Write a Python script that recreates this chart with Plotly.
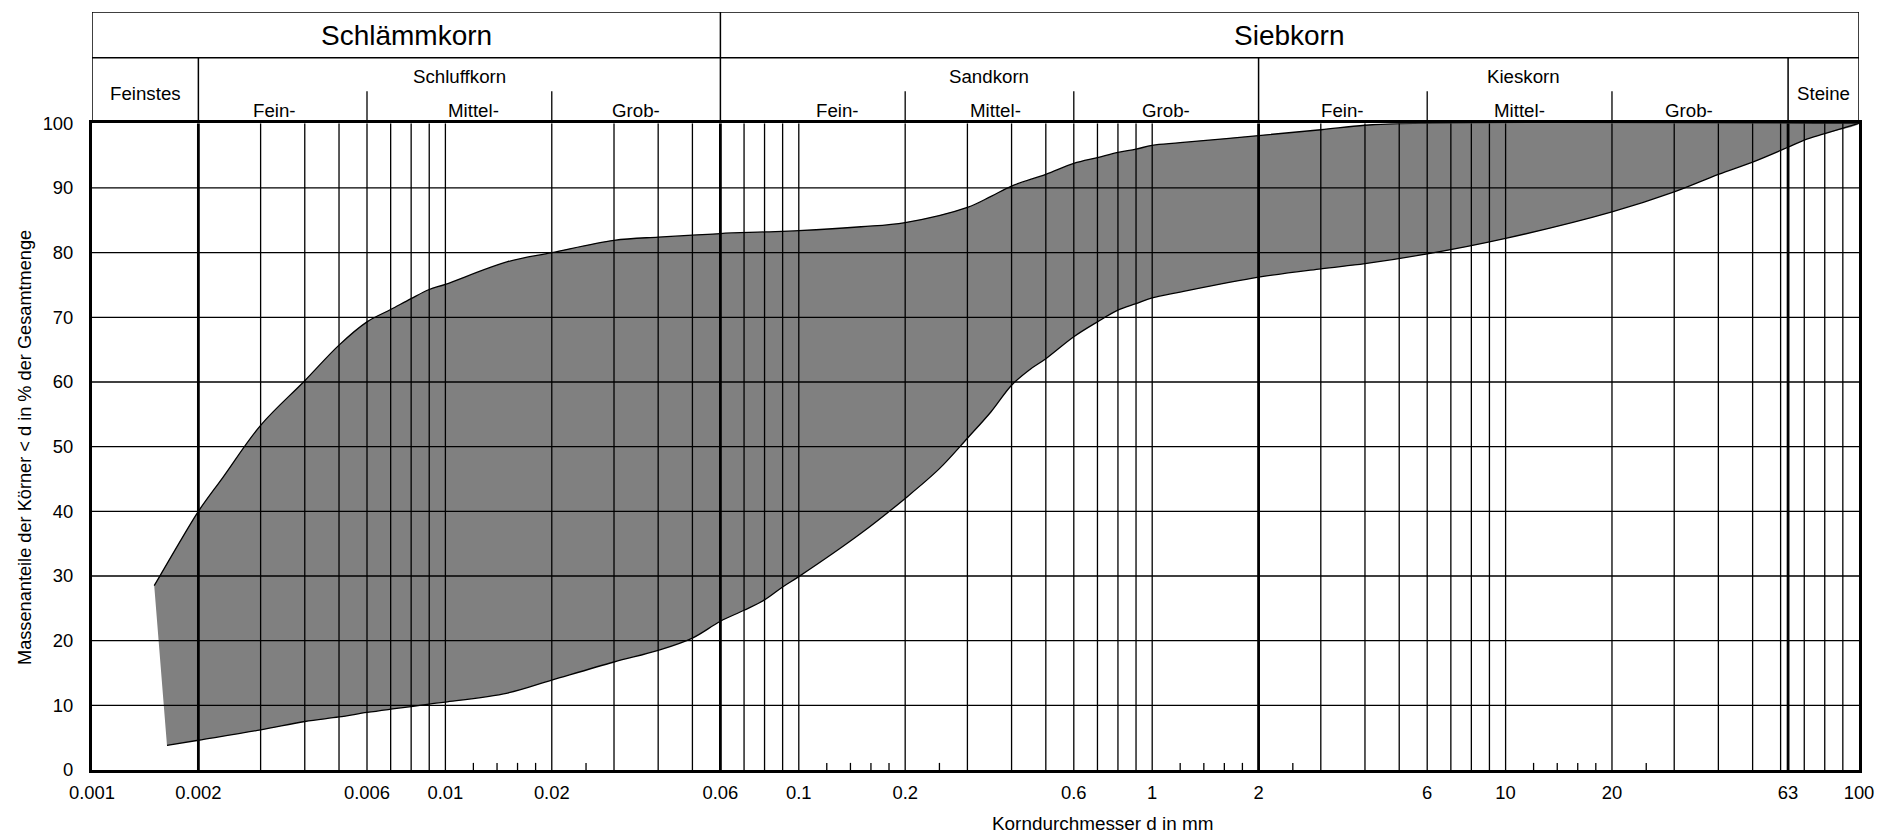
import math
import plotly.graph_objects as go

# ---------------- data ----------------
upper_d = [0.0015, 0.0018, 0.002, 0.00235, 0.003, 0.004, 0.005, 0.006, 0.007, 0.008, 0.009,
           0.01, 0.015, 0.02, 0.03, 0.04, 0.05, 0.06, 0.08, 0.1, 0.15, 0.2, 0.3, 0.35, 0.4, 0.5,
           0.6, 0.7, 0.8, 0.9, 1.0, 1.2, 2.0, 3.0, 4.0, 5.5, 100]
upper_pct = [28.5, 35.9, 40.0, 45.3, 53.3, 60.2, 65.7, 69.3, 71.2, 72.9, 74.3,
             75.1, 78.6, 80.0, 81.9, 82.4, 82.7, 82.95, 83.2, 83.4, 84.0, 84.65, 87.0, 88.7, 90.3, 92.1,
             93.8, 94.7, 95.5, 96.0, 96.6, 97.0, 98.1, 99.0, 99.7, 100, 100]

lower_d = [0.00163, 0.002, 0.003, 0.004, 0.005, 0.006, 0.007, 0.008, 0.009, 0.01, 0.015,
           0.02, 0.03, 0.04, 0.05, 0.06, 0.07, 0.08, 0.09, 0.1, 0.15, 0.2, 0.25, 0.3, 0.35,
           0.4, 0.45, 0.5, 0.6, 0.7, 0.8, 0.9, 1.0, 1.2, 2.0, 3.0, 4.0, 6.0, 10, 20, 30, 40, 50,
           63, 70, 80, 100]
lower_pct = [3.8, 4.6, 6.2, 7.5, 8.2, 8.9, 9.4, 9.8, 10.2, 10.5, 11.9,
             13.9, 16.7, 18.5, 20.4, 23.0, 24.7, 26.3, 28.3, 29.9, 36.6, 42.0, 46.6, 51.3, 55.4,
             59.5, 61.9, 63.6, 67.0, 69.3, 71.1, 72.1, 73.0, 73.9, 76.2, 77.5, 78.3, 79.8, 82.2, 86.3, 89.4, 92.1, 94.0,
             96.3, 97.4, 98.4, 100]

x_tick_vals = [0.001, 0.002, 0.006, 0.01, 0.02, 0.06, 0.1, 0.2, 0.6, 1, 2, 6, 10, 20, 63, 100]
x_tick_text = ["0.001", "0.002", "0.006", "0.01", "0.02", "0.06", "0.1", "0.2", "0.6", "1", "2",
               "6", "10", "20", "63", "100"]
y_tick_vals = [0, 10, 20, 30, 40, 50, 60, 70, 80, 90, 100]
y_grid_vals = [10, 20, 30, 40, 50, 60, 70, 80, 90]

thin_grid_d = [0.003, 0.004, 0.005, 0.006, 0.007, 0.008, 0.009, 0.01, 0.02,
               0.03, 0.04, 0.05, 0.07, 0.08, 0.09, 0.1, 0.2,
               0.3, 0.4, 0.5, 0.6, 0.7, 0.8, 0.9, 1, 3, 4, 5, 6, 7, 8, 9, 10, 20,
               30, 40, 50, 60, 70, 80, 90]
thick_grid_d = [0.002, 0.06, 2, 63]
minor_tick_d = [0.012, 0.014, 0.016, 0.018, 0.025, 0.12, 0.14, 0.16, 0.18, 0.25,
                1.2, 1.4, 1.6, 1.8, 2.5, 12, 14, 16, 18, 25]

main_groups = ["Schlämmkorn", "Siebkorn"]
main_bounds = [(0.001, 0.06), (0.06, 100)]
soil_groups = ["Feinstes", "Schluffkorn", "Sandkorn", "Kieskorn", "Steine"]
soil_bounds = [(0.001, 0.002), (0.002, 0.06), (0.06, 2), (2, 63), (63, 100)]
sub_labels = ["Fein-", "Mittel-", "Grob-", "Fein-", "Mittel-", "Grob-", "Fein-", "Mittel-", "Grob-"]
sub_bounds = [(0.002, 0.006), (0.006, 0.02), (0.02, 0.06),
              (0.06, 0.2), (0.2, 0.6), (0.6, 2),
              (2, 6), (6, 20), (20, 63)]
sub_shift = [-8, 14, 0, 25, 6, 0, 0, 0, -11]

x_title = "Korndurchmesser d in mm"
y_title = "Massenanteile der Körner < d in % der Gesamtmenge"

# ---------------- layout geometry ----------------
W, H = 1878, 833
ML, MR, MT, MB = 92, 19, 12, 63
plot_h = H - MT - MB            # 758
plot_w = W - ML - MR
main_h = 646.7
hdr_h = plot_h - main_h         # header height in px
row_sep = 65.5
short_top = 32

FONT = "Liberation Sans, Arial, Helvetica, sans-serif"
BLACK = "#000000"
GRAY = "#808080"
SMOOTH = 1.0


def vsegs(xs, y0, y1):
    X, Y = [], []
    for x in xs:
        X += [x, x, None]
        Y += [y0, y1, None]
    return X, Y


def hsegs(ys, x0, x1):
    X, Y = [], []
    for y in ys:
        X += [x0, x1, None]
        Y += [y, y, None]
    return X, Y


def gmean(a, b):
    return math.sqrt(a * b)


fig = go.Figure()

# filled band (skip duplicated shared end point)
fill_x = upper_d + lower_d[-2::-1]
fill_y = upper_pct + lower_pct[-2::-1]
fig.add_trace(go.Scatter(
    x=fill_x, y=fill_y, fill="toself", fillcolor=GRAY, mode="lines",
    line=dict(width=0, shape="spline", smoothing=SMOOTH),
    hoverinfo="skip", showlegend=False))

# horizontal grid
X, Y = hsegs(y_grid_vals, 0.001, 100)
fig.add_trace(go.Scatter(x=X, y=Y, mode="lines", line=dict(color=BLACK, width=1.3),
                         hoverinfo="skip", showlegend=False))
# thin verticals
X, Y = vsegs(thin_grid_d, 0, 100)
fig.add_trace(go.Scatter(x=X, y=Y, mode="lines", line=dict(color=BLACK, width=1.3),
                         hoverinfo="skip", showlegend=False))
# minor ticks
X, Y = vsegs(minor_tick_d, 0, 1.1)
fig.add_trace(go.Scatter(x=X, y=Y, mode="lines", line=dict(color=BLACK, width=1.3),
                         hoverinfo="skip", showlegend=False))
# thick verticals
X, Y = vsegs(thick_grid_d, 0, 100)
fig.add_trace(go.Scatter(x=X, y=Y, mode="lines", line=dict(color=BLACK, width=2.8),
                         hoverinfo="skip", showlegend=False, cliponaxis=False))
# curves
fig.add_trace(go.Scatter(x=upper_d, y=upper_pct, mode="lines",
                         line=dict(color=BLACK, width=1.3, shape="spline", smoothing=SMOOTH),
                         hoverinfo="skip", showlegend=False))
fig.add_trace(go.Scatter(x=lower_d, y=lower_pct, mode="lines",
                         line=dict(color=BLACK, width=1.3, shape="spline", smoothing=SMOOTH),
                         hoverinfo="skip", showlegend=False))

# ---------------- header (on y2, units = px above plot top) ----------------
hx, hy = [], []
a, b = hsegs([hdr_h, row_sep], 0.001, 100)
hx += a; hy += b
a, b = vsegs([0.001, 100, main_bounds[0][1]], 0, hdr_h)
hx += a; hy += b
a, b = vsegs([s[1] for s in soil_bounds[:-1] if s[1] != main_bounds[0][1]], 0, row_sep)
hx += a; hy += b
fig.add_trace(go.Scatter(x=hx, y=hy, xaxis="x", yaxis="y2", mode="lines",
                         line=dict(color=BLACK, width=1.5), cliponaxis=False,
                         hoverinfo="skip", showlegend=False))
inner = []
for i in range(0, len(sub_bounds), 3):
    inner += [sub_bounds[i][1], sub_bounds[i + 1][1]]
a, b = vsegs(inner, 0, short_top)
fig.add_trace(go.Scatter(x=a, y=b, xaxis="x", yaxis="y2", mode="lines",
                         line=dict(color=BLACK, width=1.3), cliponaxis=False,
                         hoverinfo="skip", showlegend=False))

annotations = []
for name, (lo, hi) in zip(main_groups, main_bounds):
    annotations.append(dict(x=math.log10(gmean(lo, hi)), y=(hdr_h + row_sep) / 2 - 1,
                            xref="x", yref="y2", text=name, showarrow=False,
                            xanchor="center", yanchor="middle",
                            font=dict(family=FONT, size=28, color=BLACK)))
for name, (lo, hi) in zip(soil_groups, soil_bounds):
    yy = 30 if name in ("Feinstes", "Steine") else 47
    annotations.append(dict(x=math.log10(gmean(lo, hi)), y=yy, xref="x", yref="y2",
                            text=name, showarrow=False, xanchor="center", yanchor="middle",
                            font=dict(family=FONT, size=18.7, color=BLACK)))
for name, (lo, hi), sh in zip(sub_labels, sub_bounds, sub_shift):
    annotations.append(dict(x=math.log10(gmean(lo, hi)), y=13, xref="x", yref="y2",
                            xshift=sh, text=name, showarrow=False,
                            xanchor="center", yanchor="middle",
                            font=dict(family=FONT, size=18.7, color=BLACK)))

annotations.append(dict(x=(1102.5 - ML) / plot_w, y=(MT + plot_h - 823) / plot_h,
                        xref="paper", yref="paper", text=x_title, showarrow=False,
                        xanchor="center", yanchor="middle",
                        font=dict(family=FONT, size=18.9, color=BLACK)))
annotations.append(dict(x=(25 - ML) / plot_w, y=(MT + plot_h - 448) / plot_h,
                        xref="paper", yref="paper", text=y_title, showarrow=False,
                        xanchor="center", yanchor="middle",
                        textangle=-90, font=dict(family=FONT, size=18.2, color=BLACK)))

fig.update_layout(
    width=W, height=H,
    margin=dict(l=ML, r=MR, t=MT, b=MB, pad=0, autoexpand=False),
    paper_bgcolor="white", plot_bgcolor="white",
    showlegend=False,
    font=dict(family=FONT, color=BLACK),
    xaxis=dict(type="log", range=[-3, 2], domain=[0, 1], anchor="y",
               tickvals=x_tick_vals, ticktext=x_tick_text, ticks="",
               showgrid=False, zeroline=False, automargin=False,
               showline=True, linecolor=BLACK, linewidth=3, mirror=True,
               tickfont=dict(family=FONT, size=18.4, color=BLACK),
               ticklabelstandoff=4, fixedrange=True),
    yaxis=dict(range=[0, 100], domain=[0, main_h / plot_h], anchor="x",
               tickvals=y_tick_vals, ticks="", showgrid=False, zeroline=False,
               automargin=False,
               showline=True, linecolor=BLACK, linewidth=3, mirror=True,
               tickfont=dict(family=FONT, size=18.4, color=BLACK),
               ticklabelstandoff=12, fixedrange=True),
    yaxis2=dict(range=[0, hdr_h], domain=[main_h / plot_h, 1], anchor="x",
                visible=False, fixedrange=True, automargin=False),
    annotations=annotations,
)

fig.write_html("out.html")
